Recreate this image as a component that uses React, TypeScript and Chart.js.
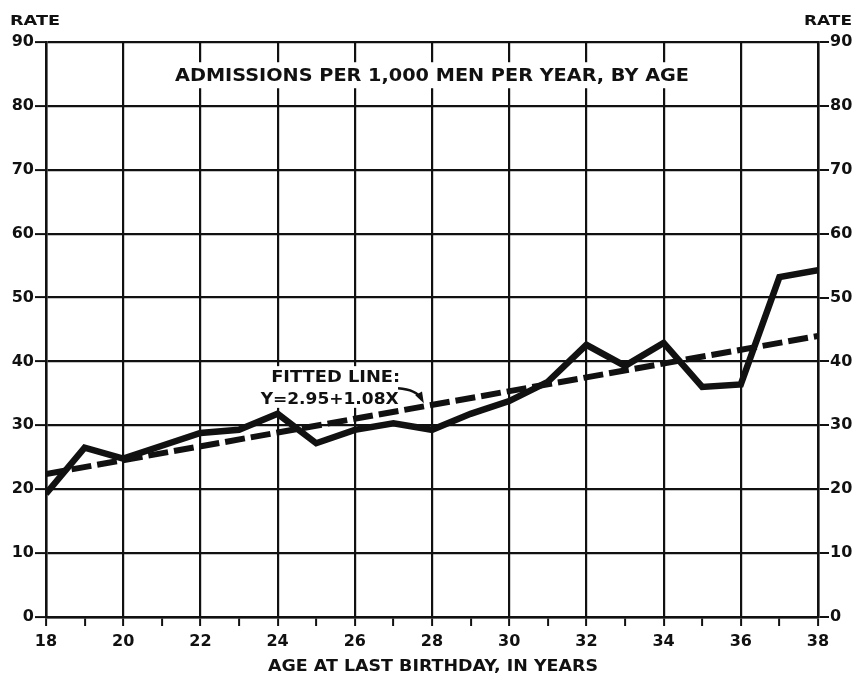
import { useEffect, useRef } from "react";
import { Chart, registerables } from "chart.js";

Chart.register(...registerables);

// Age at last birthday (years) and admission rate per 1,000 men per year
const ages = [18, 19, 20, 21, 22, 23, 24, 25, 26, 27, 28, 29, 30, 31, 32, 33, 34, 35, 36, 37, 38];
const rates = [19.3, 26.5, 24.8, 26.8, 28.8, 29.3, 31.8, 27.2, 29.3, 30.3, 29.3, 31.8, 33.8, 36.8, 42.6, 39.3, 42.9, 36.0, 36.4, 53.2, 54.3];

// Fitted straight line Y = 2.95 + 1.08X, drawn across the age range
const fitIntercept = 2.95;
const fitSlope = 1.08;
const fitAges = [18, 38];

const xTickStep = 1;
const yTickStep = 10;
const yMin = 0;
const yMax = 90;

const chartTitle = "ADMISSIONS PER 1,000 MEN PER YEAR, BY AGE";
const xAxisTitle = "AGE AT LAST BIRTHDAY, IN YEARS";
const yAxisTitle = "RATE";
const fitLabelLines = ["FITTED LINE:", "Y=2.95+1.08X"];

const INK = "#111111";
const FONT = "'DejaVu Sans', 'Liberation Sans', sans-serif";

function drawStretched(
  ctx: CanvasRenderingContext2D,
  text: string,
  cx: number,
  cy: number,
  width: number,
  size: number
) {
  ctx.save();
  ctx.font = `bold ${size}px ${FONT}`;
  const w = ctx.measureText(text).width;
  ctx.translate(cx, cy);
  ctx.scale(width / w, 1);
  ctx.textAlign = "center";
  ctx.textBaseline = "alphabetic";
  ctx.fillStyle = INK;
  ctx.fillText(text, 0, size * 0.365);
  ctx.restore();
}

const annotations = {
  id: "annotations",
  beforeDatasetsDraw(chart: any) {
    const { ctx, scales } = chart;
    const x = scales.x;
    const y = scales.y;

    // Chart title on a white band inside the grid
    const tx = x.getPixelForValue(28);
    const ty = y.getPixelForValue(84.8);
    const tw = 514;
    ctx.save();
    ctx.fillStyle = "#ffffff";
    ctx.fillRect(tx - tw / 2 - 6, ty - 13, tw + 12, 26);
    ctx.restore();
    drawStretched(ctx, chartTitle, tx, ty, tw, 17);

    // Fitted line label
    const lx = x.getPixelForValue(25.4);
    const ly1 = y.getPixelForValue(37.7);
    const ly2 = y.getPixelForValue(34.3);
    ctx.save();
    ctx.fillStyle = "#ffffff";
    ctx.fillRect(lx - 76, ly1 - 10, 152, ly2 - ly1 + 20);
    ctx.restore();
    drawStretched(ctx, fitLabelLines[0], lx + 4, ly1, 129, 16);
    drawStretched(ctx, fitLabelLines[1], lx - 2, ly2, 138, 16);

    // Curved arrow from the label to the fitted line
    const sx = x.getPixelForValue(27.12);
    const sy = y.getPixelForValue(35.8);
    const qx = x.getPixelForValue(27.6);
    const qy = y.getPixelForValue(35.6);
    const ex = x.getPixelForValue(27.74);
    const ey = y.getPixelForValue(33.4);
    ctx.save();
    ctx.strokeStyle = INK;
    ctx.fillStyle = INK;
    ctx.lineWidth = 2.5;
    ctx.beginPath();
    ctx.moveTo(sx, sy);
    ctx.quadraticCurveTo(qx, qy, ex, ey - 4);
    ctx.stroke();
    const ang = Math.atan2(ey - 4 - qy, ex - qx);
    ctx.beginPath();
    ctx.moveTo(ex + Math.cos(ang) * 4, ey - 4 + Math.sin(ang) * 4);
    ctx.lineTo(ex - Math.cos(ang - 0.5) * 8, ey - 4 - Math.sin(ang - 0.5) * 8);
    ctx.lineTo(ex - Math.cos(ang + 0.5) * 8, ey - 4 - Math.sin(ang + 0.5) * 8);
    ctx.closePath();
    ctx.fill();
    ctx.restore();
  },
  afterDraw(chart: any) {
    const { ctx, chartArea } = chart;
    // Axis captions
    drawStretched(ctx, yAxisTitle, chartArea.left - 11, chartArea.top - 22, 50, 14);
    drawStretched(ctx, yAxisTitle, chartArea.right + 10, chartArea.top - 22, 48, 14);
    const cx = (chartArea.left + chartArea.right) / 2 + 1;
    drawStretched(ctx, xAxisTitle, cx, chartArea.bottom + 49, 330, 15);
  },
};

export default function App() {
  const canvasRef = useRef<HTMLCanvasElement | null>(null);

  useEffect(() => {
    const canvas = canvasRef.current;
    if (!canvas) return;

    const observed = ages.map((a, i) => ({ x: a, y: rates[i] }));
    const fitted = fitAges.map((a) => ({ x: a, y: fitIntercept + fitSlope * a }));

    const tickFont = { family: FONT, size: 16, weight: "bold" as const };

    const chart = new Chart(canvas, {
      type: "line",
      data: {
        datasets: [
          {
            label: "Fitted line",
            data: fitted,
            borderColor: INK,
            borderWidth: 6,
            borderDash: [20, 6],
            borderCapStyle: "butt",
            pointRadius: 0,
            tension: 0,
          },
          {
            label: "Admissions per 1,000 men per year",
            data: observed,
            borderColor: INK,
            borderWidth: 6.5,
            borderJoinStyle: "miter",
            pointRadius: 0,
            tension: 0,
          },
        ],
      },
      options: {
        responsive: false,
        animation: false,
        parsing: false,
        layout: { padding: { top: 42, left: 0, right: 0, bottom: 0 } },
        plugins: {
          legend: { display: false },
          tooltip: { enabled: false },
          title: { display: false },
        },
        scales: {
          x: {
            type: "linear",
            min: ages[0],
            max: ages[ages.length - 1],
            afterFit: (s: any) => {
              s.height = 60;
            },
            ticks: {
              stepSize: xTickStep,
              autoSkip: false,
              maxRotation: 0,
              padding: 6,
              color: INK,
              font: tickFont,
              callback: (v: any) => (Number(v) % 2 === 0 ? String(v) : ""),
            },
            grid: {
              color: (c: any) => (c.tick && c.tick.value % 2 === 0 ? INK : "rgba(0,0,0,0)"),
              tickColor: INK,
              lineWidth: 2.2,
              tickLength: 9,
              tickWidth: 2,
            },
            border: { display: true, color: INK, width: 2.5 },
          },
          y: {
            type: "linear",
            position: "left",
            min: yMin,
            max: yMax,
            afterFit: (s: any) => {
              s.width = 46;
            },
            ticks: {
              stepSize: yTickStep,
              padding: 1,
              color: INK,
              font: tickFont,
            },
            grid: {
              color: INK,
              lineWidth: 2.2,
              tickLength: 11,
              tickWidth: 2,
            },
            border: { display: true, color: INK, width: 2.5 },
          },
          y2: {
            type: "linear",
            position: "right",
            min: yMin,
            max: yMax,
            afterFit: (s: any) => {
              s.width = 44;
            },
            ticks: {
              stepSize: yTickStep,
              padding: 1,
              color: INK,
              font: tickFont,
            },
            grid: {
              drawOnChartArea: false,
              color: INK,
              lineWidth: 2,
              tickLength: 11,
            },
            border: { display: true, color: INK, width: 2.5 },
          },
        },
      },
      plugins: [annotations],
    });

    return () => chart.destroy();
  }, []);

  return (
    <div style={{ position: "absolute", left: 0, top: 0, width: 862, height: 677, background: "#ffffff" }}>
      <canvas ref={canvasRef} width={862} height={677} />
    </div>
  );
}
